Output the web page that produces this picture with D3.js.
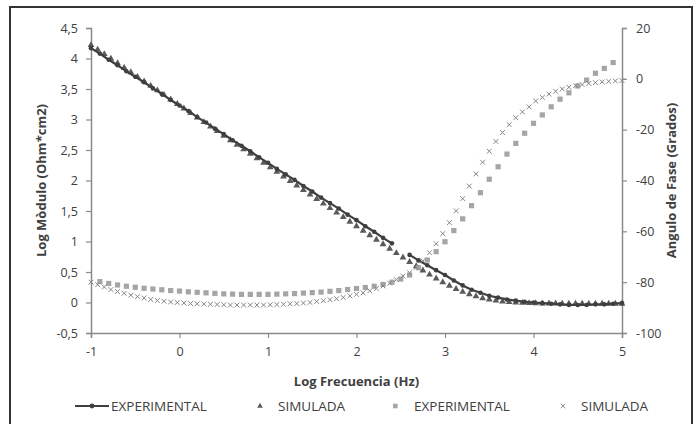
<!DOCTYPE html>
<html><head><meta charset="utf-8">
<script src="https://cdn.jsdelivr.net/npm/d3@7"></script>
<style>
html,body{margin:0;padding:0;background:#fff;}
svg{display:block;font-family:"Open Sans",sans-serif;}
</style></head>
<body><svg id="c" width="694" height="424"></svg>
<script>
// ---- data ----
const expLogF = [-1,-0.9,-0.8,-0.7,-0.6,-0.5,-0.4,-0.3,-0.2,-0.1,0,0.1,0.2,0.3,0.4,0.5,0.6,0.7,0.8,0.9,1,1.1,1.2,1.3,1.4,1.5,1.6,1.7,1.8,1.9,2,2.1,2.2,2.3,2.4,2.5,2.6,2.7,2.8,2.9,3,3.1,3.2,3.3,3.4,3.5,3.6,3.7,3.8,3.9,4,4.1,4.2,4.3,4.4,4.5,4.6,4.7,4.8,4.9,5];
const expModulo = [4.17,4.08,3.98,3.89,3.79,3.70,3.61,3.51,3.42,3.32,3.23,3.14,3.04,2.95,2.85,2.76,2.66,2.57,2.48,2.38,2.29,2.19,2.10,2.01,1.91,1.82,1.72,1.63,1.54,1.44,1.35,1.25,1.16,1.06,0.97,null,0.78,0.69,0.61,0.53,0.45,0.36,0.28,0.21,0.16,0.11,0.08,0.05,0.03,0.01,0.00,-0.01,-0.02,-0.03,-0.04,-0.04,-0.04,-0.03,-0.03,-0.02,-0.01];
const expFase = [null,-79.8,-80.5,-81.1,-81.6,-82.0,-82.4,-82.7,-83.0,-83.3,-83.5,-83.8,-84.0,-84.2,-84.4,-84.6,-84.7,-84.8,-84.8,-84.8,-84.8,-84.7,-84.6,-84.5,-84.3,-84.1,-83.9,-83.6,-83.3,-82.9,-82.5,-82.1,-81.6,-80.9,-80.0,-78.8,-77.2,-74.3,-71.3,-68.0,-64.1,-59.7,-55.1,-49.9,-44.8,-39.5,-34.6,-29.6,-25.4,-21.4,-17.5,-14.2,-11.0,-8.0,-5.5,-2.8,-0.5,2.2,4.1,6.4,null];

const simLogF = [-1,-0.925,-0.85,-0.775,-0.7,-0.625,-0.55,-0.475,-0.4,-0.325,-0.25,-0.175,-0.1,-0.025,0.05,0.125,0.2,0.275,0.35,0.425,0.5,0.575,0.65,0.725,0.8,0.875,0.95,1.025,1.1,1.175,1.25,1.325,1.4,1.475,1.55,1.625,1.7,1.775,1.85,1.925,2,2.075,2.15,2.225,2.3,2.375,2.45,2.525,2.6,2.675,2.75,2.825,2.9,2.975,3.05,3.125,3.2,3.275,3.35,3.425,3.5,3.575,3.65,3.725,3.8,3.875,3.95,4.025,4.1,4.175,4.25,4.325,4.4,4.475,4.55,4.625,4.7,4.775,4.85,4.925,5];
const simModulo = [4.22,4.146,4.072,3.997,3.923,3.849,3.775,3.700,3.626,3.552,3.478,3.403,3.329,3.255,3.181,3.106,3.032,2.958,2.884,2.809,2.735,2.661,2.587,2.512,2.438,2.364,2.290,2.215,2.141,2.067,1.993,1.918,1.844,1.770,1.696,1.621,1.547,1.473,1.399,1.324,1.251,1.177,1.103,1.029,0.955,0.882,0.810,0.737,0.665,0.595,0.526,0.458,0.394,0.333,0.275,0.222,0.175,0.135,0.100,0.071,0.049,0.031,0.017,0.007,0.000,-0.006,-0.010,-0.013,-0.015,-0.016,-0.017,-0.018,-0.019,-0.019,-0.019,-0.020,-0.020,-0.020,-0.020,-0.020,-0.020];
const simFase = [-80.0,-81.0,-81.9,-82.9,-83.7,-84.4,-85.1,-85.7,-86.2,-86.8,-87.2,-87.5,-87.8,-88.0,-88.2,-88.4,-88.5,-88.6,-88.7,-88.8,-88.9,-89.0,-89.0,-89.0,-89.0,-89.0,-89.0,-88.9,-88.8,-88.7,-88.5,-88.4,-88.2,-88.0,-87.6,-87.3,-86.9,-86.5,-86.0,-85.4,-84.8,-84.2,-83.4,-82.5,-81.5,-80.4,-79.0,-77.6,-76.3,-74.2,-71.6,-68.4,-64.9,-60.9,-56.6,-51.9,-47.1,-42.2,-37.4,-32.8,-28.5,-24.6,-21.1,-18.0,-15.3,-13.0,-11.0,-8.7,-7.3,-6.0,-4.9,-4.0,-3.3,-2.7,-2.2,-1.8,-1.5,-1.2,-1.0,-0.8,-0.7];

const xTicks = [-1,0,1,2,3,4,5];
const xLabels = ["-1","0","1","2","3","4","5"];
const yLeftTicks = [-0.5,0,0.5,1,1.5,2,2.5,3,3.5,4,4.5];
const yLeftLabels = ["-0,5","0","0,5","1","1,5","2","2,5","3","3,5","4","4,5"];
const yRightTicks = [-100,-80,-60,-40,-20,0,20];
const yRightLabels = ["-100","-80","-60","-40","-20","0","20"];
const legendLabels = ["EXPERIMENTAL","SIMULADA","EXPERIMENTAL","SIMULADA"];
const xTitle = "Log Frecuencia (Hz)";
const yLeftTitle = "Log Mòdulo (Ohm*cm2)";
const yRightTitle = "Angulo de Fase (Grados)";

// ---- drawing ----
const svg = d3.select("#c");
const L = 91, R = 622, T = 28, B = 333;
const x = d3.scaleLinear().domain([-1,5]).range([L,R]);
const yL = d3.scaleLinear().domain([-0.5,4.5]).range([B,T]);
const yR = d3.scaleLinear().domain([-100,20]).range([B,T]);

const axisCol = "#8a8a8a", textCol = "#404040";
const cExp = "#3f3f3f", cSim = "#5a5a5a", cSq = "#a5a5a5", cX = "#858585";

svg.append("rect").attr("x",10).attr("y",7).attr("width",682).attr("height",430)
  .attr("fill","#fff").attr("stroke","#333").attr("stroke-width",2);

function styleAxis(g){
  g.select(".domain").attr("stroke",axisCol).attr("stroke-width",1.5);
  g.selectAll(".tick line").attr("stroke",axisCol).attr("stroke-width",1.2);
  g.selectAll("text").attr("fill",textCol).style("font-size","12.5px").style("font-family","Open Sans, sans-serif");
}
const gx = svg.append("g").attr("transform",`translate(0,${B})`)
  .call(d3.axisBottom(x).tickValues(xTicks).tickFormat((d,i)=>xLabels[i]).tickSizeOuter(0).tickSize(5).tickPadding(9));
styleAxis(gx);
const gl = svg.append("g").attr("transform",`translate(${L},0)`)
  .call(d3.axisLeft(yL).tickValues(yLeftTicks).tickFormat((d,i)=>yLeftLabels[i]).tickSizeOuter(0).tickSize(5).tickPadding(8));
styleAxis(gl);
const gr = svg.append("g").attr("transform",`translate(${R},0)`)
  .call(d3.axisRight(yR).tickValues(yRightTicks).tickFormat((d,i)=>yRightLabels[i]).tickSizeOuter(0).tickSize(5).tickPadding(9));
styleAxis(gr);

// axis titles
svg.append("text").attr("x",(L+R)/2).attr("y",386).attr("text-anchor","middle")
  .attr("fill",textCol).style("font-size","13px").style("font-weight","bold").text(xTitle);
svg.append("text").attr("transform",`translate(46,${(T+B)/2}) rotate(-90)`).attr("text-anchor","middle")
  .attr("fill",textCol).style("font-size","13px").style("font-weight","bold").text(yLeftTitle);
svg.append("text").attr("transform",`translate(676,${(T+B)/2}) rotate(-90)`).attr("text-anchor","middle")
  .attr("fill",textCol).style("font-size","13px").style("font-weight","bold").text(yRightTitle);

const expData = expLogF.map((f,i)=>({f, m:expModulo[i], p:expFase[i]}));
const simData = simLogF.map((f,i)=>({f, m:simModulo[i], p:simFase[i]}));

// sim modulus triangles
const tri = d3.symbol().type(d3.symbolTriangle).size(20);
svg.append("g").selectAll("path").data(simData).join("path")
  .attr("d",tri).attr("transform",d=>`translate(${x(d.f)},${yL(d.m)})`).attr("fill",cSim);

// exp modulus line + markers
svg.append("path").datum(expData)
  .attr("d",d3.line().defined(d=>d.m!=null).x(d=>x(d.f)).y(d=>yL(d.m)))
  .attr("fill","none").attr("stroke",cExp).attr("stroke-width",2.2);
svg.append("g").selectAll("circle").data(expData.filter(d=>d.m!=null)).join("circle")
  .attr("cx",d=>x(d.f)).attr("cy",d=>yL(d.m)).attr("r",2.3).attr("fill",cExp);

// exp phase squares
svg.append("g").selectAll("rect").data(expData.filter(d=>d.p!=null)).join("rect")
  .attr("x",d=>x(d.f)-2.6).attr("y",d=>yR(d.p)-2.6).attr("width",5.2).attr("height",5.2).attr("fill",cSq);

// sim phase crosses
svg.append("g").selectAll("path").data(simData).join("path")
  .attr("d",d=>{const cx=x(d.f), cy=yR(d.p), s=2.4; return `M${cx-s},${cy-s}L${cx+s},${cy+s}M${cx-s},${cy+s}L${cx+s},${cy-s}`;})
  .attr("stroke",cX).attr("stroke-width",1).attr("fill","none");

// legend
const ly = 406;
const lg = svg.append("g");
lg.append("line").attr("x1",75).attr("x2",109).attr("y1",ly).attr("y2",ly).attr("stroke",cExp).attr("stroke-width",2.2);
lg.append("circle").attr("cx",92).attr("cy",ly).attr("r",2.4).attr("fill",cExp);
lg.append("path").attr("d",d3.symbol().type(d3.symbolTriangle).size(14)).attr("transform",`translate(260,${ly})`).attr("fill",cSim);
lg.append("rect").attr("x",393).attr("y",ly-2.3).attr("width",4.6).attr("height",4.6).attr("fill",cSq);
lg.append("path").attr("d",`M${563-2.2},${ly-2.2}L${563+2.2},${ly+2.2}M${563-2.2},${ly+2.2}L${563+2.2},${ly-2.2}`).attr("stroke",cX).attr("stroke-width",0.9);
const lx = [111,278,414,581];
lg.selectAll("text").data(legendLabels).join("text")
  .attr("x",(d,i)=>lx[i]).attr("y",ly).attr("dy","0.35em").attr("fill",textCol)
  .style("font-size","13.5px").text(d=>d);
</script></body></html>
